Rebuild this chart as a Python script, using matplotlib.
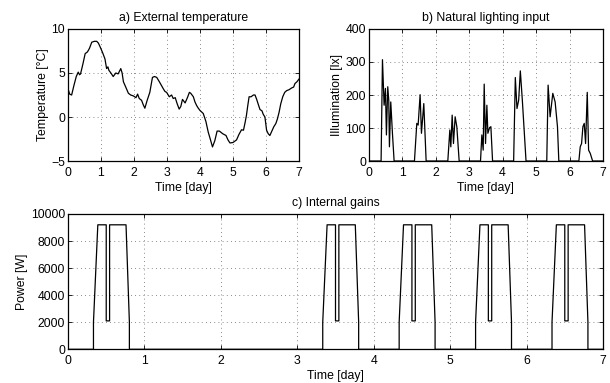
import matplotlib
matplotlib.use("Agg")
import matplotlib.pyplot as plt
import numpy as np

# a) external temperature [°C] vs time [day]
temp_t = [0.00, 0.05, 0.11, 0.18, 0.25, 0.31, 0.35, 0.38, 0.45, 0.52, 0.59,
          0.65, 0.72, 0.80, 0.87, 0.92, 0.97, 1.05, 1.12, 1.17, 1.21, 1.24,
          1.30, 1.37, 1.41, 1.45, 1.52, 1.60, 1.64, 1.68, 1.75, 1.83, 1.90,
          1.98, 2.06, 2.11, 2.16, 2.23, 2.28, 2.33, 2.40, 2.48, 2.56, 2.62,
          2.69, 2.77, 2.83, 2.89, 2.94, 2.99, 3.07, 3.14, 3.19, 3.25, 3.31,
          3.37, 3.42, 3.47, 3.55, 3.62, 3.68, 3.72, 3.80, 3.85, 3.90, 3.95,
          4.00, 4.10, 4.18, 4.25, 4.32, 4.38, 4.45, 4.52, 4.59, 4.69, 4.79,
          4.85, 4.91, 5.00, 5.11, 5.18, 5.26, 5.32, 5.37, 5.41, 5.45, 5.49,
          5.55, 5.62, 5.67, 5.72, 5.78, 5.82, 5.88, 5.92, 5.97, 6.02, 6.07,
          6.12, 6.18, 6.24, 6.30, 6.35, 6.40, 6.45, 6.51, 6.57, 6.63, 6.70,
          6.78, 6.84, 6.88, 6.94, 7.00]
temp_v = [3.2, 2.6, 2.5, 3.6, 4.6, 5.1, 4.8, 4.9, 6.0, 7.2, 7.4,
          7.8, 8.5, 8.6, 8.6, 8.4, 8.0, 7.3, 6.6, 5.5, 5.7, 5.3,
          5.0, 4.6, 4.8, 5.0, 4.9, 5.5, 5.0, 4.0, 3.4, 2.7, 2.5,
          2.4, 2.2, 2.6, 2.1, 1.9, 1.4, 1.0, 1.9, 2.8, 4.5, 4.6,
          4.5, 4.0, 3.6, 3.2, 2.9, 2.8, 2.3, 2.5, 2.1, 2.2, 1.5,
          0.9, 1.2, 2.0, 1.6, 2.2, 2.8, 2.7, 2.3, 1.7, 1.3, 1.0,
          0.75, 0.4, -0.5, -1.7, -2.6, -3.4, -2.7, -1.6, -1.6, -1.9, -2.1,
          -2.6, -2.95, -2.9, -2.6, -2.0, -1.45, -1.5, -0.6, 0.2, 1.3, 2.3,
          2.3, 2.5, 2.5, 2.0, 1.3, 0.85, 0.7, 0.3, 0.0, -1.5, -1.9,
          -2.1, -1.6, -1.1, -0.75, -0.2, 0.55, 1.5, 2.3, 2.8, 3.0, 3.1,
          3.3, 3.4, 3.8, 4.0, 4.3]

# b) natural lighting input [lx] vs time [day]
lux_t = [0.00, 0.369, 0.41, 0.459, 0.499, 0.528, 0.568, 0.598, 0.618, 0.658, 0.708, 0.758,
         1.366, 1.436, 1.476, 1.535, 1.575, 1.645, 1.715,
         2.363, 2.423, 2.453, 2.493, 2.532, 2.582, 2.632, 2.702,
         3.34, 3.38, 3.42, 3.45, 3.49, 3.53, 3.56, 3.61, 3.65, 3.70,
         4.33, 4.38, 4.43, 4.48, 4.53, 4.59, 4.65, 4.70,
         5.32, 5.36, 5.42, 5.50, 5.57, 5.64, 5.68,
         6.28, 6.32, 6.36, 6.40, 6.44, 6.48, 6.53, 6.57, 6.62, 6.69, 7.00]
lux_v = [0, 0, 307, 169, 220, 79, 225, 184, 43, 179, 84, 0,
         0, 114, 109, 201, 84, 174, 0,
         0, 94, 43, 139, 53, 134, 104, 0,
         0, 79, 33, 233, 53, 169, 84, 101, 104, 0,
         0, 253, 159, 184, 273, 184, 84, 0,
         0, 230, 134, 205, 179, 104, 0,
         0, 43, 53, 104, 114, 53, 208, 33, 23, 0, 0]

# c) internal gains: one working-day profile [day offset, W], and working days
gain_day_t = [0.333, 0.333, 0.39, 0.50, 0.50, 0.544, 0.544, 0.759, 0.803, 0.803]
gain_day_v = [0, 2000, 9200, 9200, 2100, 2100, 9200, 9200, 2000, 0]
work_days = [0, 3, 4, 5, 6]

gain_t = [0.0]
gain_v = [0]
for d in work_days:
    gain_t += [d + t for t in gain_day_t]
    gain_v += gain_day_v
gain_t.append(7.0)
gain_v.append(0)

plt.rcParams["font.family"] = ["Liberation Sans", "DejaVu Sans"]
plt.rcParams["font.size"] = 8.8
plt.rcParams["axes.unicode_minus"] = True

fig = plt.figure(figsize=(6.1, 3.83), dpi=100)
ax_a = fig.add_axes([0.1115, 0.5796, 0.3785, 0.3447])
ax_b = fig.add_axes([0.6045, 0.5796, 0.3840, 0.3447])
ax_c = fig.add_axes([0.1115, 0.0880, 0.8770, 0.3533])


def style(ax, yticks):
    ax.set_xlim(0, 7)
    ax.set_xticks(range(8))
    ax.set_ylim(yticks[0], yticks[-1])
    ax.set_yticks(yticks)
    ax.grid(True, color="0.4", linestyle=(0, (1, 4)), linewidth=0.6)
    ax.tick_params(direction="in", top=True, right=True, length=3,
                   width=0.6, labelsize=8.8)
    ax.tick_params(axis="x", pad=4)
    ax.tick_params(axis="y", pad=2)
    for s in ax.spines.values():
        s.set_linewidth(0.9)
    ax.set_xlabel("Time [day]", labelpad=2.5)


ax_a.plot(temp_t, temp_v, color="black", lw=0.9)
style(ax_a, [-5, 0, 5, 10])
ax_a.set_ylabel("Temperature [°C]", labelpad=2)
ax_a.set_title("a) External temperature", fontsize=8.8, pad=6)

ax_b.plot(lux_t, lux_v, color="black", lw=0.9)
style(ax_b, [0, 100, 200, 300, 400])
ax_b.set_ylabel("Illumination [lx]", labelpad=2)
ax_b.set_title("b) Natural lighting input", fontsize=8.8, pad=6)

ax_c.plot(gain_t, gain_v, color="black", lw=0.9)
style(ax_c, [0, 2000, 4000, 6000, 8000, 10000])
ax_c.set_ylabel("Power [W]", labelpad=2)
ax_c.set_title("c) Internal gains", fontsize=8.8, pad=6)

fig.savefig("out.png", dpi=100)
